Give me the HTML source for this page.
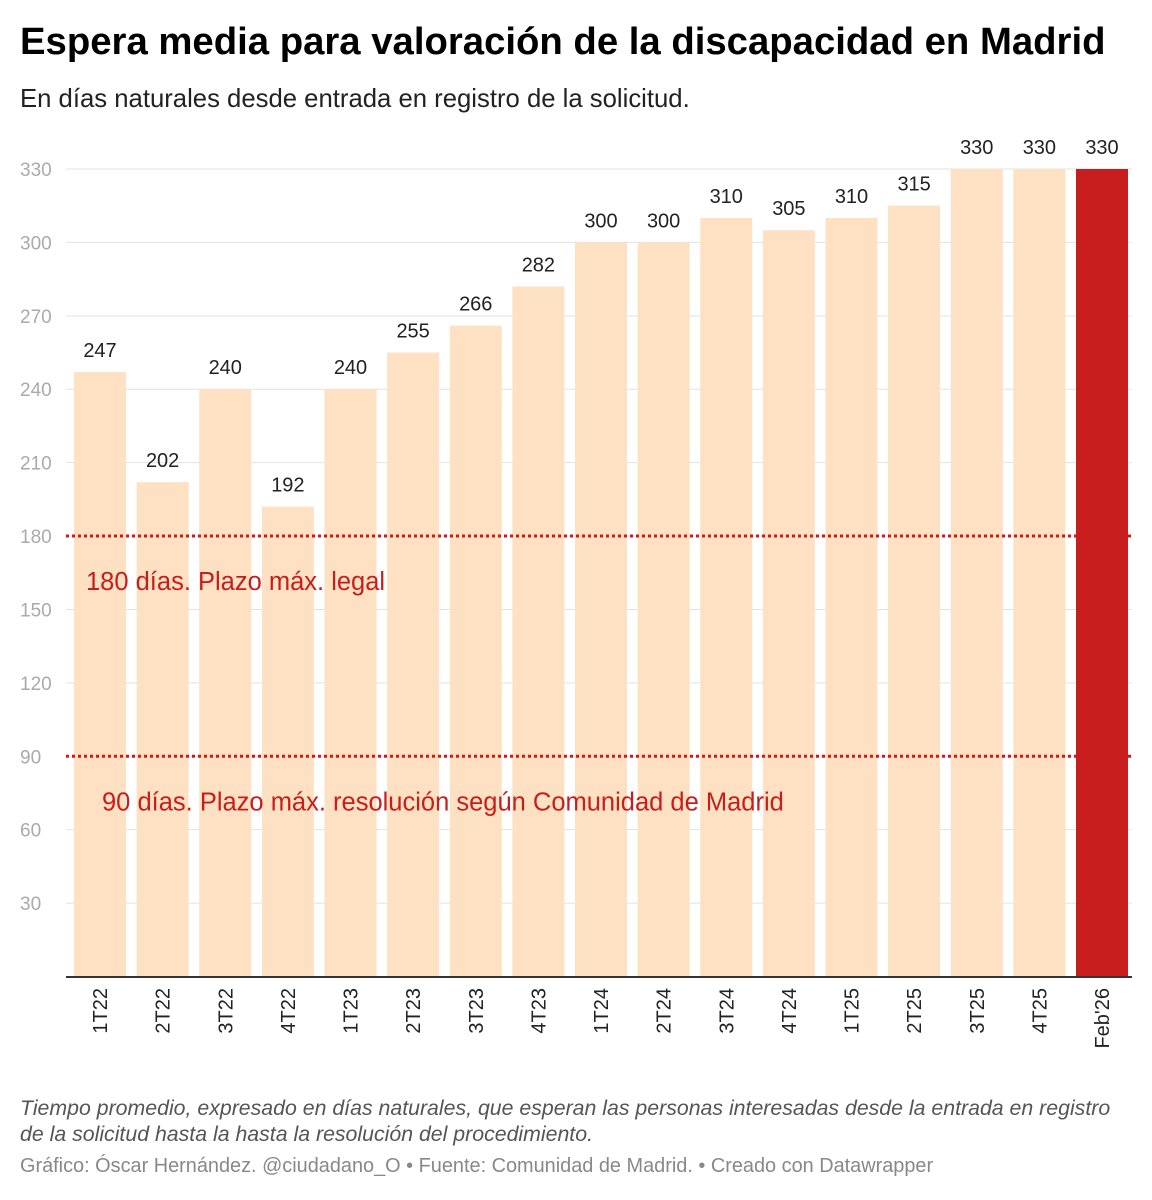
<!DOCTYPE html>
<html><head><meta charset="utf-8"><style>
body{margin:0;width:1152px;height:1200px;background:#fff;font-family:"Liberation Sans",sans-serif;overflow:hidden}
.t{position:absolute;left:20px;white-space:nowrap}
</style></head><body>
<div class="t" style="top:20px;font-size:38.3px;font-weight:bold;color:#000">Espera media para valoración de la discapacidad en Madrid</div>
<div class="t" style="top:85px;font-size:25.7px;color:#222">En días naturales desde entrada en registro de la solicitud.</div>
<svg id="chart" width="1152" height="1080" style="position:absolute;left:0;top:0"></svg>
<div class="t" style="top:1095px;font-size:21.3px;font-style:italic;color:#555;line-height:26px">Tiempo promedio, expresado en días naturales, que esperan las personas interesadas desde la entrada en registro<br>de la solicitud hasta la hasta la resolución del procedimiento.</div>
<div class="t" style="top:1155px;font-size:19.9px;color:#888">Gráfico: Óscar Hernández. @ciudadano_O • Fuente: Comunidad de Madrid. • Creado con Datawrapper</div>
<script>
const categories=["1T22","2T22","3T22","4T22","1T23","2T23","3T23","4T23","1T24","2T24","3T24","4T24","1T25","2T25","3T25","4T25","Feb'26"];
const values=[247,202,240,192,240,255,266,282,300,300,310,305,310,315,330,330,330];
const yTicks=[30,60,90,120,150,180,210,240,270,300,330];
const refValues=[180,90];
const refLabels=["180 días. Plazo máx. legal","90 días. Plazo máx. resolución según Comunidad de Madrid"];
const NS="http://www.w3.org/2000/svg";
const svg=document.getElementById('chart');
const y0=976.5,pxPer=(976.5-169)/330;
const y=v=>y0-v*pxPer;
const x=i=>74+i*62.625;
const bw=52;
function mk(t,a,txt){const e=document.createElementNS(NS,t);for(const k in a)e.setAttribute(k,a[k]);if(txt!=null)e.textContent=txt;svg.appendChild(e);return e;}
yTicks.forEach(v=>{
 const l=mk('line',{x1:66,x2:1132,y1:y(v),y2:y(v),stroke:'#e2e2e2','stroke-width':1});
 
 
 const t=mk('text',{x:20,y:y(v)+7,'font-size':19,fill:'#aaa'},v);
 
 
});
values.forEach((v,i)=>{
 const last=i===values.length-1;
 const r=mk('rect',{x:x(i),y:y(v),width:bw,height:y0-y(v),fill:last?'#c71e1d':'#fde1c2'});
 
 
 const t=mk('text',{x:x(i)+bw/2,y:y(v)-15,'font-size':20,fill:'#222','text-anchor':'middle'},v);
 
 
 const cx=x(i)+bw/2+7;
 const c=mk('text',{x:0,y:0,'font-size':20,fill:'#222','text-anchor':'end',transform:`translate(${cx},988) rotate(-90)`},categories[i]);
 
 
});
const ax=mk('line',{x1:66,x2:1132,y1:y0+0.5,y2:y0+0.5,stroke:'#333','stroke-width':2});


const refX=[86,102];
refValues.forEach((v,i)=>{
 const l=mk('line',{x1:66,x2:1132,y1:y(v),y2:y(v),stroke:'#c71e1d','stroke-width':3,'stroke-dasharray':'3 3'});
 
 
 const t=mk('text',{x:refX[i],y:y(v)+54,'font-size':25.5,fill:'#c71e1d'},refLabels[i]);
 
 
});
</script>
</body></html>
